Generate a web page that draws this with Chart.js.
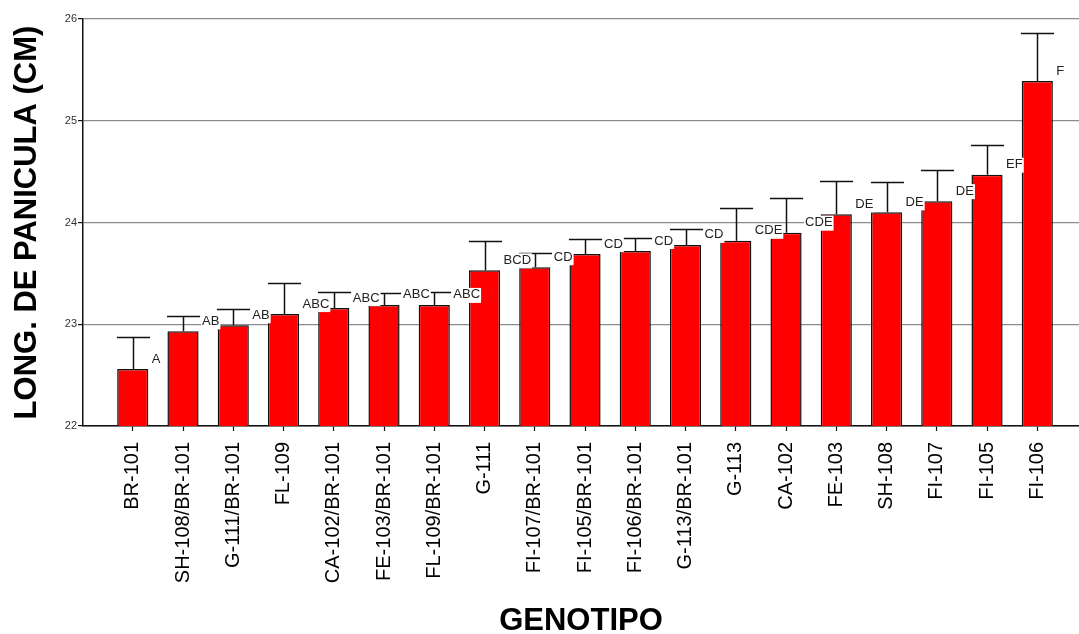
<!DOCTYPE html>
<html lang="es">
<head>
<meta charset="utf-8">
<title>Longitud de panícula por genotipo</title>
<script src="https://cdn.jsdelivr.net/npm/chart.js@4.4.1/dist/chart.umd.min.js"></script>
<style>
  html, body { margin: 0; padding: 0; background: #fff; }
  #wrap { width: 1079px; height: 634px; position: relative; }
</style>
</head>
<body>
<div id="wrap"><canvas id="grafico"></canvas></div>
<script>
// Genotipos evaluados, ordenados de menor a mayor longitud media
const genotipos = ['BR-101', 'SH-108/BR-101', 'G-111/BR-101', 'FL-109', 'CA-102/BR-101',
  'FE-103/BR-101', 'FL-109/BR-101', 'G-111', 'FI-107/BR-101', 'FI-105/BR-101',
  'FI-106/BR-101', 'G-113/BR-101', 'G-113', 'CA-102', 'FE-103', 'SH-108',
  'FI-107', 'FI-105', 'FI-106'];

// Longitud media de panícula (cm)
const medias = [22.56, 22.93, 22.99, 23.10, 23.16, 23.19, 23.19, 23.53, 23.56, 23.69,
  23.72, 23.78, 23.82, 23.90, 24.08, 24.10, 24.21, 24.47, 25.39];

// Error estándar (solo se dibuja la parte superior)
const errores = [0.31, 0.15, 0.16, 0.31, 0.16, 0.12, 0.13, 0.29, 0.14, 0.15,
  0.13, 0.16, 0.32, 0.34, 0.33, 0.30, 0.31, 0.29, 0.47];

// Grupos de la prueba de comparación de medias
const letras = ['A', 'AB', 'AB', 'ABC', 'ABC', 'ABC', 'ABC', 'BCD', 'CD', 'CD',
  'CD', 'CD', 'CDE', 'CDE', 'DE', 'DE', 'DE', 'EF', 'F'];

// Marcas del eje Y
const marcasY = [22, 23, 24, 25, 26];

const FUENTE = '"Liberation Sans", Arial, Helvetica, sans-serif';

// Barras de error superiores y letras de significancia sobre cada barra
const extrasBarras = {
  id: 'extrasBarras',
  afterDatasetsDraw(chart) {
    const { ctx, scales: { y } } = chart;
    const meta = chart.getDatasetMeta(0);
    ctx.save();
    ctx.strokeStyle = '#111';
    ctx.lineWidth = 1.5;
    meta.data.forEach((bar, i) => {
      const cx = Math.round(bar.x) + 0.5;
      const top = y.getPixelForValue(medias[i]);
      const hi = Math.round(y.getPixelForValue(medias[i] + errores[i])) + 0.5;
      const half = bar.width / 2 + 1;
      ctx.beginPath();
      ctx.moveTo(cx, top);
      ctx.lineTo(cx, hi);
      ctx.moveTo(cx - half, hi);
      ctx.lineTo(cx + half, hi);
      ctx.stroke();
    });
    ctx.font = '13px ' + FUENTE;
    ctx.textBaseline = 'middle';
    ctx.textAlign = 'left';
    meta.data.forEach((bar, i) => {
      const tx = bar.x + bar.width / 2 + 3.5;
      const ty = y.getPixelForValue(medias[i]) - 10;
      const w = ctx.measureText(letras[i]).width;
      ctx.fillStyle = '#fff';
      ctx.fillRect(tx - 1, ty - 7, w + 2, 15);
      ctx.fillStyle = '#222';
      ctx.fillText(letras[i], tx, ty);
    });
    ctx.restore();
  }
};

new Chart(document.getElementById('grafico'), {
  type: 'bar',
  data: {
    datasets: [{
      data: medias.map((v, i) => ({ x: i, y: v })),
      backgroundColor: '#ff0000',
      borderColor: '#111',
      borderWidth: 1.5,
      borderSkipped: false,
      barPercentage: 0.62,
      categoryPercentage: 1
    }]
  },
  options: {
    responsive: true,
    maintainAspectRatio: false,
    animation: false,
    layout: { padding: { top: 19, left: 0, right: 0, bottom: 0 } },
    plugins: { legend: { display: false }, tooltip: { enabled: false } },
    scales: {
      x: {
        type: 'linear',
        offset: false,
        min: -0.99,
        max: 18.83,
        afterFit(scale) { scale.height = 208; },
        afterBuildTicks(scale) { scale.ticks = genotipos.map((_, i) => ({ value: i })); },
        grid: { offset: false, drawOnChartArea: false, drawTicks: true, tickLength: 5, tickColor: '#111', tickWidth: 1.2 },
        border: { color: '#111', width: 1.5 },
        ticks: {
          autoSkip: false,
          minRotation: 90,
          maxRotation: 90,
          padding: 11,
          color: '#000',
          font: { family: FUENTE, size: 20 },
          callback: (v) => genotipos[v] ?? ''
        },
        title: {
          display: true,
          text: 'GENOTIPO',
          color: '#000',
          font: { family: FUENTE, size: 31, weight: 'bold', lineHeight: 1 },
          padding: { top: 0, bottom: -3 }
        }
      },
      y: {
        min: 22,
        max: 26,
        afterFit(scale) { scale.width = 83; },
        afterBuildTicks(scale) { scale.ticks = marcasY.map(v => ({ value: v })); },
        grid: { color: '#8c8c8c', lineWidth: 1.2, tickLength: 5, tickColor: '#111', tickWidth: 1.2 },
        border: { color: '#111', width: 1.5 },
        ticks: {
          padding: 1,
          color: '#333',
          font: { family: FUENTE, size: 11 }
        },
        title: {
          display: true,
          text: 'LONG. DE PANICULA (CM)',
          color: '#000',
          font: { family: FUENTE, size: 31, weight: 'bold', lineHeight: 1 },
          padding: { top: 12, bottom: 0 }
        }
      }
    }
  },
  plugins: [extrasBarras]
});
</script>
</body>
</html>
